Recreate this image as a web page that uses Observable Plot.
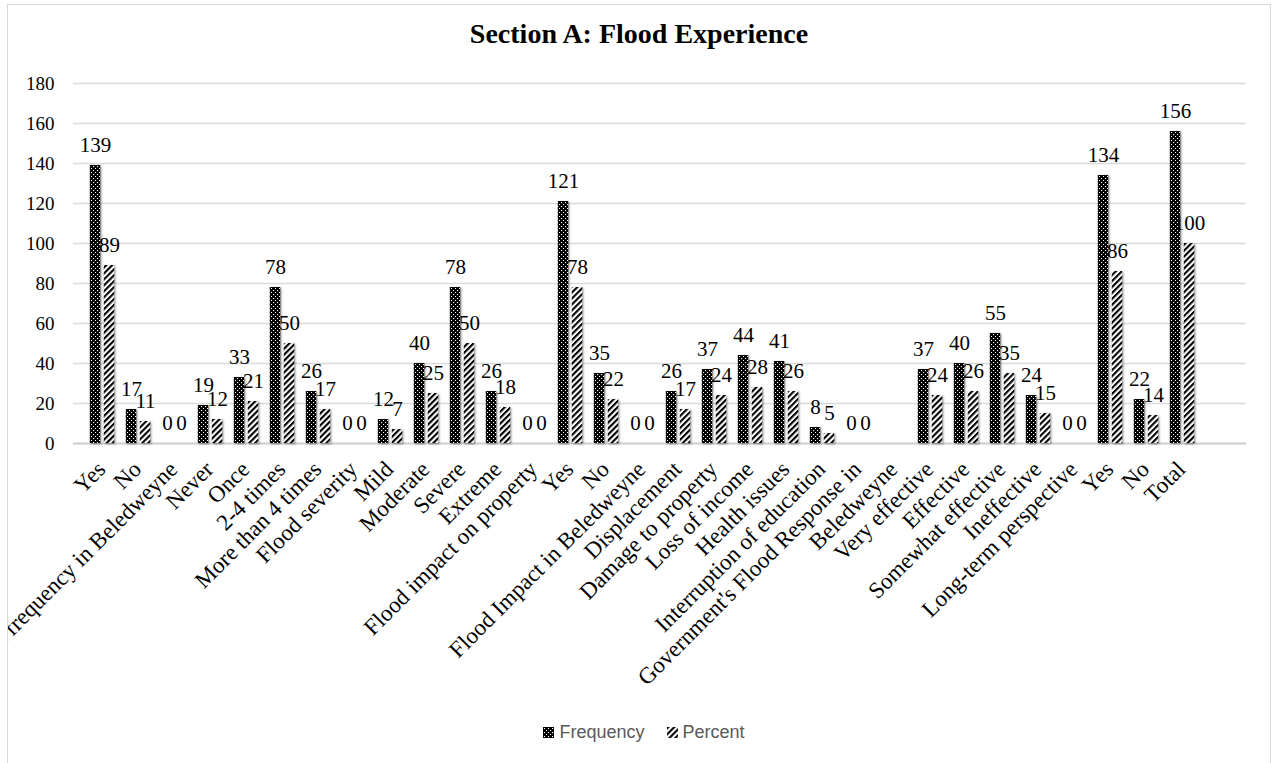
<!DOCTYPE html>
<html>
<head>
<meta charset="utf-8">
<script src="https://cdn.jsdelivr.net/npm/d3@7"></script>
<script src="https://cdn.jsdelivr.net/npm/@observablehq/plot@0.6"></script>
<style>
  html, body { margin: 0; padding: 0; background: white; }
  #frame {
    position: absolute; left: 7px; top: 4px; width: 1262px; height: 790px;
    border: 1px solid #d9d9d9; overflow: hidden; background: white;
  }
  #title {
    height: 60px; box-sizing: border-box; padding-top: 15px;
    font-family: "Liberation Serif", "Times New Roman", serif; font-weight: bold;
    font-size: 28px; line-height: 1; text-align: center; color: #000;
  }
  #chart svg text { font-family: "Liberation Serif", "Times New Roman", serif; }
  #legend {
    margin-top: 32px; height: 30px; display: flex; align-items: center; justify-content: center;
    padding-left: 10px;
    font-family: "Liberation Sans", Arial, sans-serif; font-size: 18px; color: #595959;
  }
  #legend .item { display: flex; align-items: center; }
  #legend .item + .item { margin-left: 22px; }
  #legend svg { margin-right: 5px; }
</style>
</head>
<body>
<div id="frame">
  <div id="title">Section A: Flood Experience</div>
  <div id="chart"></div>
  <div id="legend"></div>
</div>
<script>
// ---- data ----
const categories = [
  "Yes", "No", "Flood frequency in Beledweyne", "Never", "Once", "2-4 times", "More than 4 times",
  "Flood severity", "Mild", "Moderate", "Severe", "Extreme", "Flood impact on property",
  "Yes", "No", "Flood Impact in Beledweyne", "Displacement", "Damage to property", "Loss of income",
  "Health issues", "Interruption of education", "Government's Flood Response in", "Beledweyne",
  "Very effective", "Effective", "Somewhat effective", "Ineffective", "Long-term perspective",
  "Yes", "No", "Total", ""
];
const frequency = [139, 17, 0, 19, 33, 78, 26, 0, 12, 40, 78, 26, 0, 121, 35, 0, 26, 37, 44, 41, 8, 0, null, 37, 40, 55, 24, 0, 134, 22, 156, null];
const percent   = [89, 11, 0, 12, 21, 50, 17, 0, 7, 25, 50, 18, 0, 78, 22, 0, 17, 24, 28, 26, 5, 0, null, 24, 26, 35, 15, 0, 86, 14, 100, null];
const seriesNames = ["Frequency", "Percent"];
const yTicks = [0, 20, 40, 60, 80, 100, 120, 140, 160, 180];

const rows = categories.map((c, i) => ({i, c, freq: frequency[i], pct: percent[i]}));
const shown = rows.filter(d => d.freq != null);
const serif = "Liberation Serif";

const patternDefs = (p) => `
  <pattern id="${p}dots" patternUnits="userSpaceOnUse" width="4" height="4">
    <rect width="4" height="4" fill="#000"/>
    <rect x="1" y="1" width="1.1" height="1.1" fill="#fff"/>
    <rect x="3" y="3" width="1.1" height="1.1" fill="#fff"/>
  </pattern>
  <pattern id="${p}stripes" patternUnits="userSpaceOnUse" width="4.2" height="4.2" patternTransform="rotate(45)">
    <rect width="4.2" height="4.2" fill="#fff"/>
    <rect width="2.1" height="4.2" fill="#000"/>
  </pattern>`;

const chart = Plot.plot({
  width: 1262,
  height: 620,
  marginLeft: 65,
  marginRight: 24,
  marginTop: 18,
  marginBottom: 242,
  style: {fontFamily: serif, color: "#000", background: "transparent", overflow: "visible"},
  x: {type: "band", domain: d3.range(categories.length), padding: 0},
  y: {domain: [0, 180]},
  marks: [
    Plot.gridY(yTicks, {stroke: "#d9d9d9", strokeOpacity: 1, strokeWidth: 1.3}),
    Plot.axisY(yTicks, {tickSize: 0, tickPadding: 19, fontSize: 19, fontFamily: serif, label: null}),
    Plot.axisX({tickSize: 0, tickPadding: 22, dx: -1, tickRotate: -45, fontSize: 23, fontFamily: serif, label: null,
                tickFormat: i => categories[i]}),
    Plot.ruleY([0], {stroke: "#d0d0d0", strokeWidth: 2.2}),
    Plot.barY(shown, {x: "i", y: "freq", fill: "url(#dots)", insetLeft: 5.8, insetRight: 19.8, className: "bars"}),
    Plot.barY(shown, {x: "i", y: "pct", fill: "url(#stripes)", insetLeft: 19.8, insetRight: 5.8, className: "bars"}),
    Plot.text(shown, {x: "i", y: "freq", text: d => String(d.freq), dx: -7, dy: -14, lineAnchor: "bottom", fontSize: 21, fontFamily: serif, fill: "#000"}),
    Plot.text(shown, {x: "i", y: "pct", text: d => String(d.pct), dx: 7, dy: -14, lineAnchor: "bottom", fontSize: 21, fontFamily: serif, fill: "#000"})
  ]
});

const defs = document.createElementNS("http://www.w3.org/2000/svg", "defs");
defs.innerHTML = patternDefs("");
chart.insertBefore(defs, chart.firstChild);
d3.select(chart).selectAll("g.bars").style("filter", "drop-shadow(1.5px 1px 1.2px rgba(0,0,0,0.45))");
document.getElementById("chart").appendChild(chart);

// legend
const legend = document.getElementById("legend");
seriesNames.forEach((name, k) => {
  const item = document.createElement("div");
  item.className = "item";
  const id = k === 0 ? "Ldots" : "Lstripes";
  item.innerHTML = `<svg width="11" height="11"><defs>${patternDefs("L")}</defs><rect width="11" height="11" fill="url(#${id})"/></svg><span>${name}</span>`;
  legend.appendChild(item);
});
</script>
</body>
</html>
